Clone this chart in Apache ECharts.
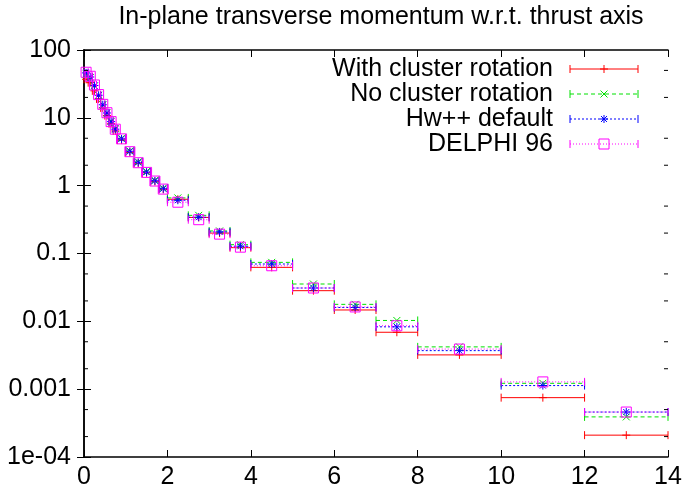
<!DOCTYPE html>
<html>
<head>
<meta charset="utf-8">
<script src="https://cdn.jsdelivr.net/npm/echarts@6/dist/echarts.min.js"></script>
<style>
    html, body { margin: 0; padding: 0; background: #fff; }
    #pt_in_thrust { width: 686px; height: 500px; }
</style>
</head>
<body>
<div id="pt_in_thrust"></div>
<script>

// Chart data
// ------------------------------

// Bin centres and half widths (GeV)
var binCentres = [0.05, 0.15, 0.25, 0.35, 0.45, 0.55, 0.65, 0.75, 0.9, 1.1, 1.3, 1.5, 1.7, 1.9,
    2.25, 2.75, 3.25, 3.75, 4.5, 5.5, 6.5, 7.5, 9, 11, 13];
var binHalfWidths = [0.05, 0.05, 0.05, 0.05, 0.05, 0.05, 0.05, 0.05, 0.1, 0.1, 0.1, 0.1, 0.1, 0.1,
    0.25, 0.25, 0.25, 0.25, 0.5, 0.5, 0.5, 0.5, 1, 1, 1];

// 1/N dN/dpTin
var withRotation = [37, 33, 25, 19, 14, 10.8, 8.2, 6.4, 4.7, 3.1, 2.15, 1.55, 1.15, 0.88,
    0.63, 0.34, 0.2, 0.122, 0.0625, 0.0283, 0.0147, 0.0069, 0.0032, 0.00075, 0.00021];
var noRotation = [44, 39, 29.5, 21.5, 15.6, 11.8, 8.9, 6.9, 5.0, 3.25, 2.25, 1.62, 1.2, 0.92,
    0.66, 0.365, 0.215, 0.135, 0.074, 0.0355, 0.0178, 0.0103, 0.0042, 0.00122, 0.00039];
var hwDefault = [46, 40, 30, 21.5, 15.6, 11.8, 8.8, 6.8, 4.9, 3.2, 2.2, 1.58, 1.18, 0.9,
    0.61, 0.343, 0.208, 0.128, 0.07, 0.031, 0.016, 0.0083, 0.0037, 0.00113, 0.00046];
var delphi96 = [47, 41, 30.5, 22, 15.8, 11.9, 8.8, 6.8, 4.9, 3.17, 2.18, 1.57, 1.17, 0.89,
    0.57, 0.315, 0.193, 0.124, 0.066, 0.031, 0.0163, 0.0086, 0.0039, 0.00128, 0.00046];

var seriesNames = ['With cluster rotation', 'No cluster rotation', 'Hw++ default', 'DELPHI 96'];
var yTickLabels = ['1e-04', '0.001', '0.01', '0.1', '1', '10', '100'];
var minorTickValues = [2e-4, 5e-4, 2e-3, 5e-3, 2e-2, 5e-2, 0.2, 0.5, 2, 5, 20, 50];


// Setup module
// ------------------------------

var EchartsPtInThrust = function() {

    var FONT = '"Liberation Sans", Arial, sans-serif';
    var X_MAX = 14;

    // Series look: colour, dash and marker
    var looks = [
        {color: '#ff0000', dash: null, marker: 'plus'},
        {color: '#00e000', dash: [4, 3], marker: 'cross'},
        {color: '#0000ff', dash: [2, 2], marker: 'star'},
        {color: '#ff00ff', dash: [1, 2], marker: 'box'}
    ];

    // Marker shapes around (cx, cy)
    var markerShapes = function(kind, cx, cy, color) {
        var st = {stroke: color, lineWidth: 1};
        var seg = function(x1, y1, x2, y2) {
            return {type: 'line', shape: {x1: x1, y1: y1, x2: x2, y2: y2}, style: st};
        };
        if (kind === 'plus') {
            return [seg(cx - 4, cy, cx + 4, cy), seg(cx, cy - 4, cx, cy + 4)];
        }
        if (kind === 'cross') {
            return [seg(cx - 3.5, cy - 3.5, cx + 3.5, cy + 3.5), seg(cx - 3.5, cy + 3.5, cx + 3.5, cy - 3.5)];
        }
        if (kind === 'star') {
            return [seg(cx - 4, cy, cx + 4, cy), seg(cx, cy - 4, cx, cy + 4),
                seg(cx - 3, cy - 3, cx + 3, cy + 3), seg(cx - 3, cy + 3, cx + 3, cy - 3)];
        }
        return [{type: 'rect', shape: {x: cx - 5, y: cy - 5, width: 10, height: 10},
            style: {stroke: color, fill: null, lineWidth: 1}}];
    };

    // Horizontal bar from xl to xr at y with end ticks and a marker in the middle
    var barShapes = function(look, xl, xr, xc, y) {
        var bar = [
            {type: 'line', shape: {x1: xl, y1: y, x2: xr, y2: y},
                style: {stroke: look.color, lineWidth: 1, lineDash: look.dash}},
            {type: 'line', shape: {x1: xl, y1: y - 4, x2: xl, y2: y + 4},
                style: {stroke: look.color, lineWidth: 1}},
            {type: 'line', shape: {x1: xr, y1: y - 4, x2: xr, y2: y + 4},
                style: {stroke: look.color, lineWidth: 1}}
        ];
        return bar.concat(markerShapes(look.marker, xc, y, look.color));
    };

    var makeRenderItem = function(look) {
        return function(params, api) {
            var x = api.value(0), y = api.value(1), hw = api.value(2);
            var pl = api.coord([x - hw, y]);
            var pr = api.coord([x + hw, y]);
            var pc = api.coord([x, y]);
            return {type: 'group', children: barShapes(look, pl[0], pr[0], pc[0], pc[1])};
        };
    };

    var _ptInThrustExample = function() {
        if (typeof echarts == 'undefined') {
            console.warn('Warning - echarts.min.js is not loaded.');
            return;
        }

        var chart_element = document.getElementById('pt_in_thrust');
        if (!chart_element) {
            return;
        }

        var chart = echarts.init(chart_element);

        var values = [withRotation, noRotation, hwDefault, delphi96];

        var series = seriesNames.map(function(name, s) {
            return {
                name: name,
                type: 'custom',
                renderItem: makeRenderItem(looks[s]),
                itemStyle: {color: looks[s].color},
                encode: {x: 0, y: 1},
                silent: true,
                z: 2 + s,
                data: binCentres.map(function(x, i) {
                    return [x, values[s][i], binHalfWidths[i]];
                })
            };
        });

        // Minor log ticks on left and right borders
        series.push({
            type: 'custom',
            silent: true,
            z: 10,
            encode: {y: 0},
            renderItem: function(params, api) {
                var v = api.value(0);
                var l = api.coord([0, v]);
                var r = api.coord([X_MAX, v]);
                var st = {stroke: '#000', lineWidth: 1};
                return {type: 'group', children: [
                    {type: 'line', shape: {x1: l[0], y1: l[1], x2: l[0] + 4, y2: l[1]}, style: st},
                    {type: 'line', shape: {x1: r[0] - 4, y1: r[1], x2: r[0], y2: r[1]}, style: st}
                ]};
            },
            data: minorTickValues.map(function(v) { return [v]; })
        });

        // Key, gnuplot style: text on the left, sample on the right
        var keyRows = [];
        seriesNames.forEach(function(name, s) {
            var y = 69 + 25 * s;
            keyRows.push({
                type: 'text',
                x: 553,
                y: y,
                style: {text: name, align: 'right', verticalAlign: 'middle',
                    font: '25px ' + FONT, fill: '#000'}
            });
            keyRows = keyRows.concat(barShapes(looks[s], 570, 638, 604, y));
        });

        var axisLine = {show: true, lineStyle: {color: '#000', width: 1.5}};
        var yLabel = function(v) {
            return yTickLabels[Math.round(Math.log10(v)) + 4];
        };

        chart.setOption({
            animation: false,
            title: {
                text: 'In-plane transverse momentum w.r.t. thrust axis',
                left: 376,
                textAlign: 'center',
                top: 0,
                textStyle: {fontFamily: FONT, fontSize: 25, fontWeight: 'normal', color: '#000'}
            },
            graphic: [{type: 'group', silent: true, children: keyRows}],
            grid: {left: 84, right: 18, top: 50, bottom: 43, outerBoundsMode: 'none'},
            xAxis: [{
                type: 'value',
                min: 0,
                max: X_MAX,
                interval: 2,
                axisLine: axisLine,
                axisTick: {inside: true, length: 7, lineStyle: {color: '#000'}},
                splitLine: {show: false},
                axisLabel: {fontFamily: FONT, fontSize: 25, color: '#000', margin: 8}
            }, {
                type: 'value',
                position: 'top',
                min: 0,
                max: X_MAX,
                interval: 2,
                axisLine: axisLine,
                axisTick: {inside: true, length: 7, lineStyle: {color: '#000'}},
                splitLine: {show: false},
                axisLabel: {show: false}
            }],
            yAxis: [{
                type: 'log',
                logBase: 10,
                min: 1e-4,
                max: 100,
                axisLine: axisLine,
                axisTick: {inside: true, length: 7, lineStyle: {color: '#000'}},
                splitLine: {show: false},
                axisLabel: {fontFamily: FONT, fontSize: 25, color: '#000', margin: 13, formatter: yLabel}
            }, {
                type: 'log',
                logBase: 10,
                position: 'right',
                min: 1e-4,
                max: 100,
                axisLine: axisLine,
                axisTick: {inside: true, length: 7, lineStyle: {color: '#000'}},
                splitLine: {show: false},
                axisLabel: {show: false}
            }],
            series: series
        });
    };

    return {
        init: function() {
            _ptInThrustExample();
        }
    };
}();


// Initialize module
// ------------------------------

document.addEventListener('DOMContentLoaded', function() {
    EchartsPtInThrust.init();
});
</script>
</body>
</html>
